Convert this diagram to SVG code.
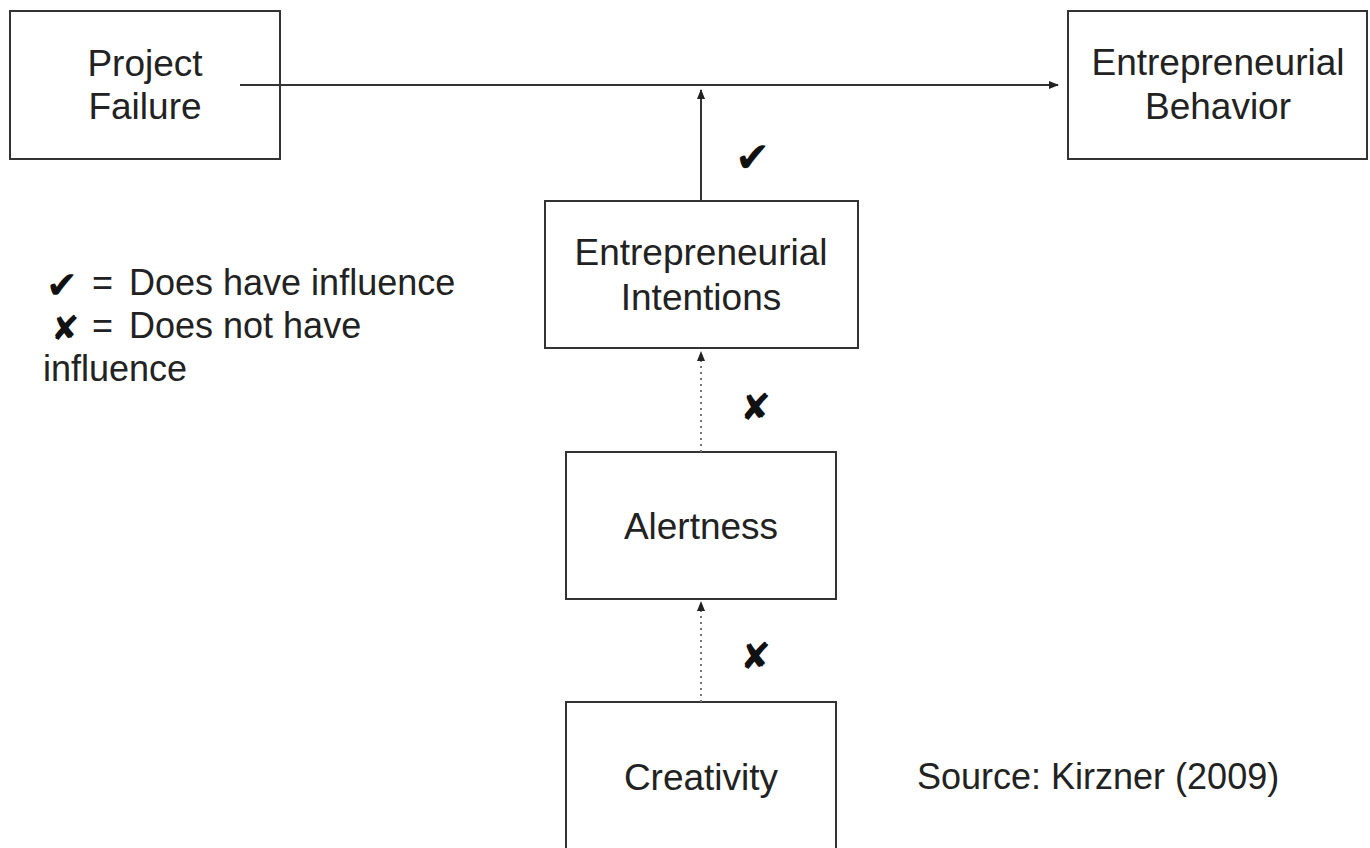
<svg xmlns="http://www.w3.org/2000/svg" width="1370" height="848" viewBox="0 0 1370 848">
  <style>
    .box { fill: #ffffff; stroke: #333333; stroke-width: 2; }
    .label { font-family: "Liberation Sans", Arial, sans-serif; font-size: 37px; fill: #222222; text-anchor: middle; }
    .legend { font-family: "Liberation Sans", Arial, sans-serif; font-size: 36px; fill: #222222; }
    .sym { font-family: "DejaVu Sans", sans-serif; fill: #111111; }
    .solid { fill: none; stroke: #333333; stroke-width: 2; }
    .dotted { fill: none; stroke: #777777; stroke-width: 2; stroke-dasharray: 2 4; }
  </style>
  <defs>
    <marker id="arrow" markerWidth="10" markerHeight="8" refX="9" refY="4" orient="auto" markerUnits="userSpaceOnUse">
      <path d="M0,0 L10,4 L0,8 Z" fill="#222222"/>
    </marker>
  </defs>
  <rect width="1370" height="848" fill="#ffffff"/>

  <g id="project-failure">
    <rect class="box" x="10" y="11" width="270" height="148"/>
    <text class="label" x="145" y="76">Project</text>
    <text class="label" x="145" y="119">Failure</text>
  </g>

  <g id="entrepreneurial-behavior">
    <rect class="box" x="1068" y="11" width="299" height="148"/>
    <text class="label" x="1218" y="75">Entrepreneurial</text>
    <text class="label" x="1218" y="119">Behavior</text>
  </g>

  <g id="entrepreneurial-intentions">
    <rect class="box" x="545" y="201" width="313" height="147"/>
    <text class="label" x="701" y="265">Entrepreneurial</text>
    <text class="label" x="701" y="310">Intentions</text>
  </g>

  <g id="alertness">
    <rect class="box" x="566" y="452" width="270" height="147"/>
    <text class="label" x="701" y="539">Alertness</text>
  </g>

  <g id="creativity">
    <rect class="box" x="566" y="702" width="270" height="160"/>
    <text class="label" x="701" y="790">Creativity</text>
  </g>

  <!-- connectors, drawn over the boxes so the top line starts inside Project Failure -->
  <g id="connectors">
    <line class="solid" x1="240" y1="85" x2="1058" y2="85" marker-end="url(#arrow)"/>
    <line class="solid" x1="701" y1="201" x2="701" y2="90" marker-end="url(#arrow)"/>
    <line class="dotted" x1="701" y1="452" x2="701" y2="352" marker-end="url(#arrow)"/>
    <line class="dotted" x1="701" y1="702" x2="701" y2="602" marker-end="url(#arrow)"/>
    <text class="sym" x="735" y="172" font-size="42">✔</text>
    <text class="sym" x="740" y="420" font-size="37">✘</text>
    <text class="sym" x="740" y="669" font-size="37">✘</text>
  </g>

  <g id="legend">
    <text class="sym" x="46" y="298" font-size="38">✔</text>
    <text class="legend" y="295"><tspan x="92">=</tspan><tspan x="129">Does have influence</tspan></text>
    <text class="sym" x="51" y="340" font-size="34">✘</text>
    <text class="legend" y="338"><tspan x="92">=</tspan><tspan x="129">Does not have</tspan></text>
    <text class="legend" x="43" y="381">influence</text>
  </g>

  <g id="source">
    <text class="legend" x="917" y="789" font-size="37">Source: Kirzner (2009)</text>
  </g>
</svg>
